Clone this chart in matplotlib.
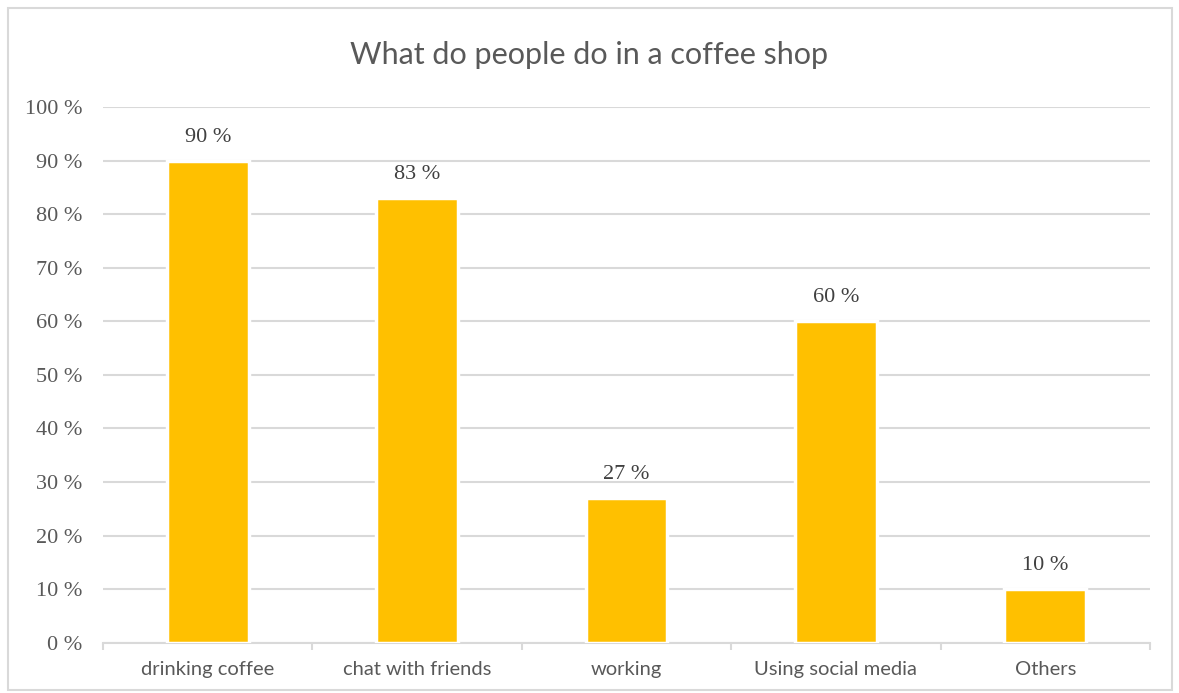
import matplotlib
matplotlib.use("Agg")
import matplotlib.pyplot as plt
import numpy as np
from matplotlib.patches import Rectangle

# data
categories = ["drinking coffee", "chat with friends", "working", "Using social media", "Others"]
values = [90, 83, 27, 60, 10]
yticks = [0, 10, 20, 30, 40, 50, 60, 70, 80, 90, 100]

bar_color = "#FFC000"
grid_color = "#D9D9D9"
text_color = "#595959"

fig = plt.figure(figsize=(11.79, 6.93), dpi=100)
ax = fig.add_axes([0.0874, 0.0726, 0.888, 0.773])

x = np.arange(len(categories))
ax.bar(x, values, width=0.39, color=bar_color, edgecolor="white", linewidth=2.5, zorder=3)

ax.set_xlim(-0.5, len(categories) - 0.5)
ax.set_ylim(0, 100)
ax.set_yticks(yticks)
ax.set_yticklabels([f"{t} %" for t in yticks], family="Liberation Serif", fontsize=16, color=text_color)
ax.set_xticks(x)
ax.set_xticklabels(categories, family="Lato", fontsize=14.5, color=text_color)
ax.tick_params(axis="x", length=0, pad=13)
ax.tick_params(axis="y", length=0, pad=15)

# small ticks between categories
ax.set_xticks(np.arange(-0.5, len(categories)), minor=True)
ax.tick_params(axis="x", which="minor", length=5, color=grid_color, width=1.5)

ax.grid(axis="y", color=grid_color, linewidth=1.5, zorder=0)
for s in ["top", "right", "left"]:
    ax.spines[s].set_visible(False)
ax.spines["bottom"].set_color(grid_color)
ax.spines["bottom"].set_linewidth(1.5)

for xi, v in zip(x, values):
    ax.annotate(f"{v} %", (xi, v), xytext=(0, 10), textcoords="offset points",
                ha="center", va="bottom", family="Liberation Serif", fontsize=16, color="#404040")

fig.text(0.5, 0.921, "What do people do in a coffee shop", ha="center", va="center",
         family="Lato", fontsize=22, color=text_color)

fig.patches.append(Rectangle((0.007, 0.005), 0.987, 0.983, transform=fig.transFigure,
                             fill=False, edgecolor=grid_color, linewidth=1.5))

fig.savefig("out.png", dpi=100)
